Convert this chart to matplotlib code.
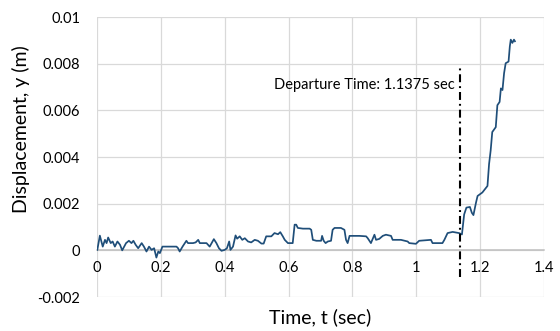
import matplotlib
matplotlib.use("Agg")
import matplotlib.pyplot as plt

# Measured vertical displacement of the body over time
time_s = [
    0.001, 0.009, 0.018, 0.025, 0.030, 0.035, 0.043, 0.049, 0.056, 0.064,
    0.072, 0.079, 0.091, 0.100, 0.108, 0.114, 0.121, 0.129, 0.140, 0.147,
    0.155, 0.163, 0.171, 0.179, 0.186, 0.192, 0.197, 0.205, 0.228, 0.249,
    0.254, 0.259, 0.268, 0.280, 0.285, 0.301, 0.309, 0.317, 0.322, 0.343,
    0.353, 0.366, 0.374, 0.382, 0.390, 0.400, 0.407, 0.414, 0.418, 0.426,
    0.434, 0.439, 0.447, 0.455, 0.463, 0.473, 0.483, 0.494, 0.504, 0.515,
    0.522, 0.530, 0.546, 0.556, 0.567, 0.574, 0.582, 0.588, 0.598, 0.613,
    0.619, 0.624, 0.629, 0.645, 0.666, 0.671, 0.676, 0.687, 0.702, 0.705,
    0.710, 0.716, 0.723, 0.733, 0.738, 0.744, 0.764, 0.775, 0.780, 0.785,
    0.791, 0.822, 0.843, 0.848, 0.858, 0.869, 0.874, 0.884, 0.895, 0.905,
    0.921, 0.926, 0.952, 0.973, 0.978, 0.999, 1.009, 1.046, 1.051, 1.082,
    1.088, 1.098, 1.114, 1.134, 1.143, 1.150, 1.157, 1.168, 1.174, 1.179,
    1.187, 1.192, 1.207, 1.223, 1.228, 1.233, 1.238, 1.249, 1.254, 1.261,
    1.265, 1.270, 1.275, 1.280, 1.289, 1.293, 1.296, 1.301, 1.306, 1.309,
]
displacement_m = [
    0.00002, 0.00063, 0.00016, 0.00045, 0.00031, 0.00055, 0.00031, 0.00038, 0.00016, 0.00038,
    0.00024, 0.00000, 0.00031, 0.00041, 0.00031, 0.00041, 0.00024, 0.00009, 0.00031, 0.00016,
    -0.00005, 0.00016, 0.00002, 0.00009, -0.00031, -0.00005, -0.00012, 0.00016, 0.00016, 0.00016,
    0.00009, -0.00005, 0.00016, 0.00041, 0.00031, 0.00031, 0.00034, 0.00045, 0.00031, 0.00031,
    0.00016, 0.00048, 0.00031, 0.00009, -0.00002, 0.00002, 0.00009, 0.00038, 0.00002, 0.00016,
    0.00064, 0.00050, 0.00060, 0.00045, 0.00052, 0.00038, 0.00034, 0.00045, 0.00041, 0.00029,
    0.00029, 0.00060, 0.00060, 0.00074, 0.00069, 0.00078, 0.00060, 0.00045, 0.00031, 0.00031,
    0.00110, 0.00110, 0.00096, 0.00093, 0.00093, 0.00088, 0.00045, 0.00041, 0.00041, 0.00062,
    0.00041, 0.00031, 0.00038, 0.00041, 0.00088, 0.00096, 0.00096, 0.00088, 0.00045, 0.00031,
    0.00062, 0.00062, 0.00060, 0.00052, 0.00031, 0.00067, 0.00045, 0.00049, 0.00062, 0.00067,
    0.00062, 0.00045, 0.00045, 0.00038, 0.00031, 0.00028, 0.00041, 0.00045, 0.00031, 0.00031,
    0.00045, 0.00074, 0.00079, 0.00074, 0.00068, 0.00154, 0.00183, 0.00186, 0.00161, 0.00151,
    0.00204, 0.00233, 0.00248, 0.00276, 0.00370, 0.00428, 0.00507, 0.00528, 0.00622, 0.00636,
    0.00694, 0.00687, 0.00759, 0.00802, 0.00809, 0.00874, 0.00903, 0.00889, 0.00903, 0.00896,
]

departure_time = 1.1375

x_ticks = [0, 0.2, 0.4, 0.6, 0.8, 1.0, 1.2, 1.4]
x_tick_labels = ["0", "0.2", "0.4", "0.6", "0.8", "1", "1.2", "1.4"]
y_ticks = [-0.002, 0, 0.002, 0.004, 0.006, 0.008, 0.01]
y_tick_labels = ["-0.002", "0", "0.002", "0.004", "0.006", "0.008", "0.01"]

plt.rcParams["font.family"] = ["Lato", "DejaVu Sans"]

fig = plt.figure(figsize=(5.6, 3.31), dpi=100)
ax = fig.add_axes([0.1732, 0.1027, 0.7982, 0.8459])

ax.set_xlim(0, 1.4)
ax.set_ylim(-0.002, 0.01)
ax.set_xticks(x_ticks)
ax.set_xticklabels(x_tick_labels)
ax.set_yticks(y_ticks)
ax.set_yticklabels(y_tick_labels)

ax.grid(True, color="#d9d9d9", linewidth=0.9, zorder=0)
ax.set_axisbelow(True)
for side in ("top", "right", "left"):
    ax.spines[side].set_visible(False)
ax.spines["bottom"].set_position(("data", 0))
ax.spines["bottom"].set_color("#bfbfbf")
ax.spines["bottom"].set_linewidth(1.1)
ax.tick_params(axis="both", length=0, labelsize=10.5, colors="black")
ax.tick_params(axis="x", pad=8)
ax.tick_params(axis="y", pad=12)

ax.plot(time_s, displacement_m, color="#1F4E79", linewidth=1.25, zorder=3)

ax.plot([departure_time, departure_time], [-0.00115, 0.0078],
        color="black", linewidth=1.5, dashes=(3.8, 1.9, 0.9, 1.9),
        clip_on=False, zorder=4)
ax.text(departure_time - 0.016, 0.0071,
        f"Departure Time: {departure_time} sec",
        ha="right", va="center", fontsize=10.5)

ax.set_xlabel("Time, t (sec)", fontsize=14)
ax.xaxis.set_label_coords(0.5, -0.04)
ax.set_ylabel("Displacement, y (m)", fontsize=14)
ax.yaxis.set_label_coords(-0.15, 0.6)

fig.savefig("out.png", dpi=100)
